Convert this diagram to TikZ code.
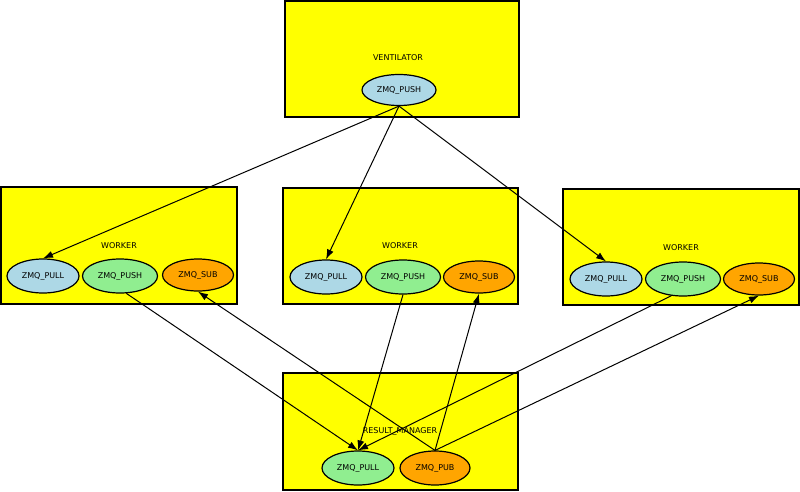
\documentclass[tikz,border=0pt]{standalone}
\usepackage{fontspec}
\setmainfont{DejaVu Sans}
\usetikzlibrary{arrows.meta,shapes.geometric}

\definecolor{boxyellow}{HTML}{FFFF00}
\definecolor{pullblue}{HTML}{ADD8E6}
\definecolor{pushgreen}{HTML}{90EE90}
\definecolor{suborange}{HTML}{FFA500}

\begin{document}
\begin{tikzpicture}
[x=1pt,y=-1pt,
 box/.style={draw,fill=boxyellow,line width=1.1pt},
 lbl/.style={font=\fontsize{8}{9}\selectfont,inner sep=0pt},
 sock/.style={ellipse,draw,line width=1.2pt,minimum width=72pt,minimum height=34pt,inner sep=0pt,font=\fontsize{8}{9}\selectfont},
 pull/.style={sock,fill=pullblue},
 push/.style={sock,fill=pushgreen},
 sub/.style={sock,fill=suborange},
 msg/.style={-{Latex[length=10pt,width=7pt]},line width=1pt}]
\useasboundingbox (0,0) rectangle (800,491);
% boxes
\draw[box] (285,1) rectangle (519,117);
\draw[box] (1,187) rectangle (237,304);
\draw[box] (283,188) rectangle (518,304);
\draw[box] (563,189) rectangle (799,305);
\draw[box] (283,373) rectangle (518,490);
% ventilator
\node[lbl] (vent) at (398,58) {VENTILATOR};
\node[pull,minimum width=74pt,minimum height=31pt] (vpush) at (399,90) {ZMQ\_PUSH};
% workers
\node[lbl] (wa) at (119,246) {WORKER};
\node[pull] (wapull) at (43,276) {ZMQ\_PULL};
\node[push,minimum width=75pt] (wapush) at (120,276) {ZMQ\_PUSH};
\node[sub,minimum width=71pt,minimum height=32pt] (wasub) at (198,275) {ZMQ\_SUB};
\node[lbl] (wb) at (400,246) {WORKER};
\node[pull] (wbpull) at (326,277) {ZMQ\_PULL};
\node[push,minimum width=75pt] (wbpush) at (403,277) {ZMQ\_PUSH};
\node[sub,minimum width=71pt,minimum height=32pt] (wbsub) at (479,277) {ZMQ\_SUB};
\node[lbl] (wc) at (681,248) {WORKER};
\node[pull] (wcpull) at (606,279) {ZMQ\_PULL};
\node[push,minimum width=75pt] (wcpush) at (683,279) {ZMQ\_PUSH};
\node[sub,minimum width=71pt,minimum height=32pt] (wcsub) at (759,279) {ZMQ\_SUB};
% result manager
\node[lbl] (rm) at (400,431) {RESULT\_MANAGER};
\node[push] (rmpull) at (358,468) {ZMQ\_PULL};
\node[sub,minimum width=70pt] (rmpub) at (435,468) {ZMQ\_PUB};
% connections
\path[msg] (vpush.south) edge (wapull.north) edge (wbpull.north) edge (wcpull.north);
\path[msg] (wapush.-70) edge (rmpull.north) (wbpush.south) edge (rmpull.north) (wcpush.-125) edge (rmpull.north);
\path[msg] (rmpub.north) edge (wasub.south) edge (wbsub.south) edge (wcsub.south);
\end{tikzpicture}
\end{document}
